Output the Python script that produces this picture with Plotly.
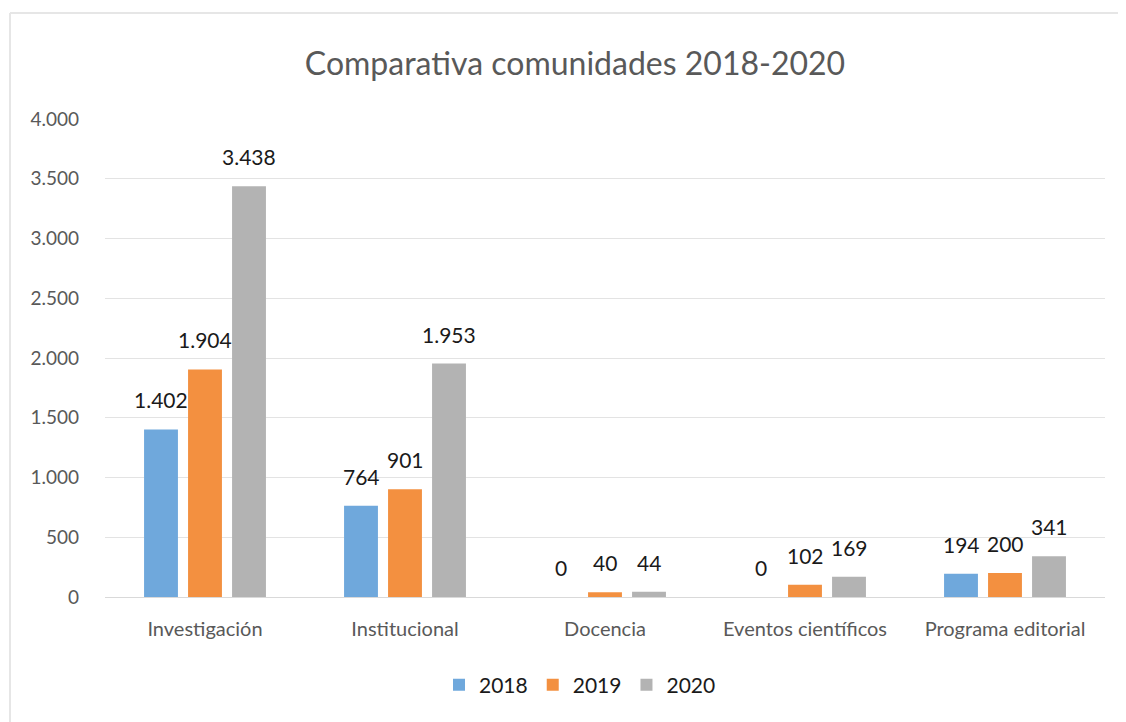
import plotly.graph_objects as go

categories = ["Investigación", "Institucional", "Docencia", "Eventos científicos", "Programa editorial"]
years = ["2018", "2019", "2020"]
values_2018 = [1402, 764, 0, 0, 194]
values_2019 = [1904, 901, 40, 102, 200]
values_2020 = [3438, 1953, 44, 169, 341]
colors = ["#6FA8DC", "#F39040", "#B3B3B3"]
tick_vals = [0, 500, 1000, 1500, 2000, 2500, 3000, 3500, 4000]
tick_text = ["0", "500", "1.000", "1.500", "2.000", "2.500", "3.000", "3.500", "4.000"]

def fmt(v):
    return f"{v:,}".replace(",", ".")

FONT = "Lato, 'Open Sans', sans-serif"

OFF = 8  # page body offset
W, H = 1126 - 2 * OFF, 722 - OFF
L, T = 105 - OFF, 119 - OFF
pw, ph = 1000, 478
R = W - L - pw
B = H - T - ph

BARGAP, GROUPGAP = 0.34, 0.23
slot_px = pw / len(categories) * (1 - BARGAP) / len(years)

fig = go.Figure()
annotations = []
series = [values_2018, values_2019, values_2020]
for i, (name, vals, col) in enumerate(zip(years, series, colors)):
    fig.add_trace(go.Bar(
        x=categories, y=vals, name=name,
        marker=dict(color=col, line=dict(width=0)),
        cliponaxis=False,
    ))
    shift = (i - (len(years) - 1) / 2) * slot_px
    for c, v in zip(categories, vals):
        annotations.append(dict(
            x=c, y=v, xref="x", yref="y", text=fmt(v), showarrow=False,
            xanchor="center", yanchor="bottom", xshift=shift, yshift=15,
            font=dict(family=FONT, size=21, color="#1a1a1a"),
        ))

fig.update_layout(
    width=W, height=H,
    margin=dict(l=L, r=R, t=T, b=B),
    paper_bgcolor="white", plot_bgcolor="white",
    barmode="group", bargap=BARGAP, bargroupgap=GROUPGAP,
    title=dict(text="Comparativa comunidades 2018-2020", x=(575 - OFF) / W, xanchor="center",
               y=1 - (64 - OFF) / H, yanchor="middle",
               font=dict(family=FONT, size=32, color="#595959")),
    font=dict(family=FONT),
    annotations=annotations,
    legend=dict(orientation="h", x=(580 - OFF - L) / pw, xanchor="center",
                y=-(685 - 597) / ph, yanchor="middle",
                font=dict(family=FONT, size=21, color="#1a1a1a"),
                itemwidth=30, traceorder="normal"),
    xaxis=dict(showline=True, linecolor="#d9d9d9", linewidth=1, ticks="",
               tickfont=dict(family=FONT, size=20, color="#595959"), ticklabelstandoff=14),
    yaxis=dict(range=[0, 4000], tickvals=tick_vals, ticktext=tick_text,
               showgrid=True, gridcolor="#e3e3e3", gridwidth=1, zeroline=False,
               tickfont=dict(family=FONT, size=19, color="#595959"), ticks="",
               ticklabelstandoff=25),
    shapes=[
        dict(type="line", xref="paper", yref="paper",
             x0=(10 - 105) / pw, x1=(1126 - 105) / pw,
             y0=1 + (119 - 13) / ph, y1=1 + (119 - 13) / ph,
             line=dict(color="#e6e6e6", width=2)),
        dict(type="line", xref="paper", yref="paper",
             x0=(10 - 105) / pw, x1=(10 - 105) / pw,
             y0=1 + (119 - 13) / ph, y1=-(722 - 597) / ph,
             line=dict(color="#e6e6e6", width=2)),
    ],
)

fig.write_html("out.html")
